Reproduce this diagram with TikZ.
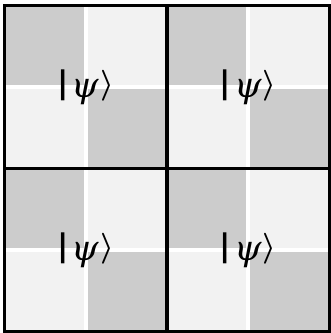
\documentclass[tikz,border=0pt]{standalone}
\usepackage{fontspec}
\usepackage{tikz}
\newfontfamily\ketfont{DejaVu Sans}
\newfontfamily\psifont{DejaVu Serif}
\definecolor{cellDark}{HTML}{CCCCCC}
\definecolor{cellLight}{HTML}{F2F2F2}
\newcommand{\ketpsi}{{\bfseries|}\kern3pt\raisebox{-4pt}{\psifont\itshape\fontsize{35}{40}\selectfont ψ}\kern1pt\scalebox{3.1}{\fontsize{10}{12}\selectfont\boldmath$\rangle$}}

\begin{document}
\begin{tikzpicture}[
    x=1pt, y=-1pt,
    dark/.style={fill=cellDark},
    light/.style={fill=cellLight},
    gridline/.style={draw=black, line width=3.2pt},
    ket/.style={font=\ketfont\fontsize{31}{37}\selectfont, inner sep=0pt, anchor=base}
  ]
  \useasboundingbox (0,0) rectangle (331,333);
  \fill[white] (0,0) rectangle (331,333);

  % each quadrant: checkerboard of four tiles with a white gap
  \foreach \xa/\xb/\ya/\yb/\nm in {4.5/167/5.5/168.5/tl, 167/329.5/5.5/168.5/tr,
                                   4.5/167/168.5/331.5/bl, 167/329.5/168.5/331.5/br} {
    \pgfmathsetmacro{\cx}{(\xa+\xb)/2}
    \pgfmathsetmacro{\cy}{(\ya+\yb)/2}
    \fill[dark]  (\xa,\ya) rectangle (\cx-2,\cy-2);
    \fill[light] (\cx+2,\ya) rectangle (\xb,\cy-2);
    \fill[light] (\xa,\cy+2) rectangle (\cx-2,\yb);
    \fill[dark]  (\cx+2,\cy+2) rectangle (\xb,\yb);
    \node[ket] (ket-\nm) at (\cx,\cy+6.7) {\ketpsi};
  }

  \draw[gridline] (4.5,5.5) rectangle (329.5,331.5);
  \draw[gridline] (167,5.5) -- (167,331.5);
  \draw[gridline] (4.5,168.5) -- (329.5,168.5);
\end{tikzpicture}
\end{document}
